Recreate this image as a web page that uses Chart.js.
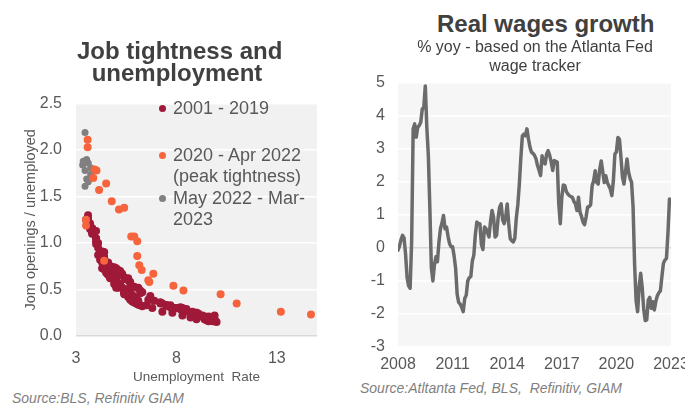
<!DOCTYPE html>
<html>
<head>
<meta charset="utf-8">
<script src="https://cdn.jsdelivr.net/npm/chart.js@4.4.0/dist/chart.umd.min.js"></script>
<style>
  body { margin: 0; width: 685px; height: 405px; background: #fff; position: relative; overflow: hidden;
         font-family: "Liberation Sans", Arial, sans-serif; }
  .box { position: absolute; }
  .title { position: absolute; text-align: center; font-weight: bold; font-size: 24px; color: #404040; white-space: nowrap; }
  .sub { position: absolute; text-align: center; font-size: 16px; line-height: 19px; color: #404040; white-space: nowrap; }
  .source { position: absolute; font-style: italic; font-size: 14px; line-height: 16px; color: #7f7f7f; white-space: pre; }
  .key { position: absolute; left: 173px; font-size: 18px; line-height: 21px; color: #595959; white-space: nowrap; }
  .dot { position: absolute; width: 7px; height: 7px; border-radius: 50%; }
</style>
</head>
<body>

<div class="box" style="left:0; top:80px;"><canvas id="jobs" width="340" height="305"></canvas></div>
<div class="box" style="left:340px; top:60px;"><canvas id="wages" width="345" height="320"></canvas></div>

<div class="title" style="left:77px; top:40px; width:200px; line-height:22px;">Job tightness and<br>unemployment</div>
<div class="title" style="left:437px; top:12px; width:200px; line-height:24px;">Real wages growth</div>
<div class="sub" style="left:385px; top:37px; width:300px;">% yoy - based on the Atlanta Fed<br>wage tracker</div>

<div class="dot" style="left:159px; top:105px; background:#a01939;"></div>
<div class="key" style="top:98px;">2001 - 2019</div>
<div class="dot" style="left:159px; top:152px; background:#f5643c;"></div>
<div class="key" style="top:145px;">2020 - Apr 2022<br>(peak tightness)</div>
<div class="dot" style="left:159px; top:195px; background:#808080;"></div>
<div class="key" style="top:188px;">May 2022 - Mar-<br>2023</div>

<div class="source" style="left:12px; top:390px;">Source:BLS, Refinitiv GIAM</div>
<div class="source" style="left:360px; top:380px;">Source:Atltanta Fed, BLS,  Refinitiv, GIAM</div>

<script>
// Unemployment rate (%) and job openings per unemployed person, monthly 2001-2019
const preUnemp = [
  4.2,4.2,4.3,4.4,4.3,4.5,4.6,4.9,5.0,5.3,5.5,5.7,
  5.7,5.7,5.7,5.9,5.8,5.8,5.8,5.7,5.7,5.7,5.9,6.0,
  5.8,5.9,5.9,6.0,6.1,6.3,6.2,6.1,6.1,6.0,5.8,5.7,
  5.7,5.6,5.8,5.6,5.6,5.6,5.5,5.4,5.4,5.5,5.4,5.4,
  5.3,5.4,5.2,5.2,5.1,5.0,5.0,4.9,5.0,5.0,5.0,4.9,
  4.7,4.8,4.7,4.7,4.6,4.6,4.7,4.7,4.5,4.4,4.5,4.4,
  4.6,4.5,4.4,4.5,4.4,4.6,4.7,4.6,4.7,4.7,4.7,5.0,
  5.0,4.9,5.1,5.0,5.4,5.6,5.8,6.1,6.1,6.5,6.8,7.3,
  7.8,8.3,8.7,9.0,9.4,9.5,9.5,9.6,9.8,10.0,9.9,9.9,
  9.8,9.8,9.9,9.9,9.6,9.4,9.4,9.5,9.5,9.4,9.8,9.3,
  9.1,9.0,9.0,9.1,9.0,9.1,9.0,9.0,9.0,8.8,8.6,8.5,
  8.3,8.3,8.2,8.2,8.2,8.2,8.2,8.1,7.8,7.8,7.7,7.9,
  8.0,7.7,7.5,7.6,7.5,7.5,7.3,7.2,7.2,7.2,6.9,6.7,
  6.6,6.7,6.7,6.2,6.3,6.1,6.2,6.1,5.9,5.7,5.8,5.6,
  5.7,5.5,5.4,5.4,5.6,5.3,5.2,5.1,5.0,5.0,5.1,5.0,
  4.8,4.9,5.0,5.1,4.8,4.9,4.8,4.9,5.0,4.9,4.7,4.7,
  4.7,4.6,4.4,4.4,4.4,4.3,4.3,4.4,4.2,4.1,4.2,4.1,
  4.0,4.1,4.0,4.0,3.8,4.0,3.8,3.8,3.7,3.8,3.8,3.9,
  4.0,3.8,3.8,3.7,3.6,3.6,3.7,3.6,3.5,3.6,3.6,3.6
];
const preRatio = [
  0.87,0.82,0.79,0.74,0.73,0.70,0.66,0.60,0.57,0.52,0.47,0.45,
  0.48,0.44,0.45,0.42,0.43,0.44,0.40,0.42,0.41,0.43,0.40,0.38,
  0.40,0.37,0.36,0.35,0.34,0.32,0.33,0.34,0.35,0.36,0.37,0.39,
  0.41,0.42,0.40,0.43,0.45,0.44,0.46,0.45,0.48,0.46,0.47,0.50,
  0.52,0.50,0.53,0.56,0.55,0.56,0.58,0.60,0.59,0.62,0.60,0.62,
  0.65,0.66,0.68,0.70,0.66,0.69,0.66,0.65,0.68,0.72,0.71,0.72,
  0.70,0.73,0.74,0.70,0.72,0.68,0.66,0.67,0.64,0.62,0.63,0.58,
  0.58,0.56,0.52,0.52,0.46,0.44,0.41,0.37,0.38,0.33,0.30,0.26,
  0.25,0.22,0.20,0.18,0.18,0.17,0.18,0.16,0.16,0.15,0.16,0.17,
  0.18,0.17,0.18,0.22,0.21,0.19,0.21,0.19,0.20,0.20,0.19,0.22,
  0.21,0.22,0.23,0.22,0.23,0.24,0.25,0.24,0.25,0.26,0.26,0.29,
  0.29,0.30,0.31,0.29,0.30,0.29,0.29,0.30,0.30,0.30,0.31,0.30,
  0.30,0.33,0.33,0.32,0.33,0.33,0.35,0.35,0.36,0.36,0.38,0.39,
  0.39,0.41,0.43,0.46,0.47,0.52,0.49,0.51,0.53,0.54,0.53,0.60,
  0.58,0.61,0.63,0.63,0.62,0.67,0.70,0.66,0.66,0.68,0.69,0.68,
  0.74,0.74,0.73,0.71,0.73,0.70,0.74,0.70,0.70,0.72,0.75,0.74,
  0.75,0.79,0.82,0.85,0.90,0.88,0.91,0.90,0.91,0.87,0.90,0.95,
  0.99,1.00,1.02,1.05,1.12,1.05,1.14,1.10,1.18,1.16,1.15,1.10,
  1.13,1.14,1.16,1.15,1.21,1.22,1.21,1.19,1.25,1.22,1.26,1.30
];
// Jan 2020 - Apr 2022
const covidUnemp = [3.5,3.5,4.4,14.7,13.2,11.0,10.2,8.35,7.85,6.85,6.65,6.6,6.27,6.15,6.05,6.05,5.75,5.9,5.4,5.14,4.78,4.5,4.15,3.86,3.92,4.02,3.58,3.58];
const covidRatio = [1.19,1.25,0.81,0.23,0.26,0.35,0.45,0.49,0.54,0.67,0.58,0.60,0.71,0.76,0.86,1.02,1.07,1.07,1.38,1.36,1.45,1.64,1.57,1.70,1.79,1.78,2.03,2.11];
// May 2022 - Mar 2023
const lateUnemp = [3.45,3.36,3.53,3.33,3.61,3.73,3.45,3.73,3.53,3.61,3.45];
const lateRatio = [2.19,1.88,1.90,1.84,1.86,1.81,1.78,1.74,1.69,1.66,1.61];
const jobsXTicks = [3, 8, 13];

// Real wage growth, % yoy, monthly from Jan 2008
const wageStart = 2008;
const realWage = [
  -0.07,0.05,0.25,0.38,0.30,-0.20,-0.90,-1.15,-1.22,0.20,3.60,3.75,
  3.35,3.65,3.70,3.80,4.20,4.25,4.90,3.65,2.80,1.20,-0.60,-1.00,
  -0.52,-0.27,-0.42,0.18,0.58,0.75,0.98,0.58,0.63,0.35,0.13,0.03,
  0.03,-0.25,-0.62,-1.40,-1.65,-1.70,-1.80,-1.93,-1.53,-1.43,-1.00,-0.90,
  -0.87,-0.40,-0.22,0.40,0.78,0.73,0.73,0.10,-0.05,0.63,0.58,0.45,
  0.33,0.80,1.13,0.93,0.33,0.38,0.90,1.23,1.33,0.85,0.73,0.93,
  1.33,0.73,0.28,0.22,0.18,0.28,0.90,1.30,1.93,2.73,3.39,3.44,
  3.39,3.60,3.30,3.05,2.89,2.86,2.80,2.69,2.49,2.35,2.19,2.79,
  2.60,2.54,2.84,2.94,2.80,2.60,2.34,2.64,2.62,2.59,1.33,0.73,
  1.53,1.90,1.88,1.70,1.63,1.58,1.55,1.53,1.40,1.33,1.13,1.53,
  1.08,0.95,0.78,0.70,0.93,1.23,1.25,1.30,1.88,2.03,2.33,1.98,
  1.93,2.38,2.63,2.30,1.98,2.18,1.98,1.88,1.78,1.58,2.03,2.84,
  2.90,3.34,3.29,2.74,2.14,1.93,2.30,2.69,2.30,2.10,1.98,1.23,
  -0.50,-1.60,-1.93,-1.17,-0.77,-1.20,-1.85,-2.20,-2.18,-1.58,-1.50,-1.83,
  -1.63,-1.88,-1.62,-1.45,-1.36,-1.30,-0.87,-0.47,-0.37,-0.32,0.45,1.48,
  1.43
];
const wageXTicks = [2008, 2011, 2014, 2017, 2020, 2023];

const tickColor = '#595959';
const pairs = (xs, ys) => xs.map((x, i) => ({ x: x, y: ys[i] }));

// fills the plot area behind the grid
const plotBg = {
  id: 'plotBg',
  beforeDraw(chart, args, opts) {
    const { ctx, chartArea: a } = chart;
    ctx.save();
    ctx.fillStyle = opts.color;
    ctx.fillRect(a.left, a.top, a.width, a.height);
    ctx.restore();
  }
};

const gridColor = ctx => ctx.tick && ctx.tick.value === 0 ? '#d9d9d9' : '#ffffff';

new Chart(document.getElementById('jobs'), {
  type: 'scatter',
  data: {
    datasets: [
      { label: '2020 - Apr 2022 (peak tightness)', data: pairs(covidUnemp, covidRatio),
        backgroundColor: '#f5643c', pointRadius: 4, borderWidth: 0 },
      { label: 'May 2022 - Mar-2023', data: pairs(lateUnemp, lateRatio),
        backgroundColor: '#808080', pointRadius: 3.5, borderWidth: 0 },
      { label: '2001 - 2019', data: pairs(preUnemp, preRatio),
        backgroundColor: '#a01939', pointRadius: 4, borderWidth: 0 }
    ]
  },
  options: {
    responsive: false,
    animation: false,
    layout: { padding: { left: 22, top: 13, right: 23, bottom: 0 } },
    plugins: { legend: { display: false }, tooltip: { enabled: false }, plotBg: { color: '#f1f1f1' } },
    scales: {
      x: {
        type: 'linear', min: 3, max: 15,
        afterBuildTicks: s => { s.ticks = jobsXTicks.map(v => ({ value: v })); },
        afterFit: s => { s.height = 49; s.paddingLeft = 0; s.paddingRight = 0; },
        grid: { display: false },
        border: { display: false },
        ticks: { color: tickColor, font: { size: 16 }, padding: 5 },
        title: { display: true, text: 'Unemployment  Rate', color: tickColor, font: { size: 13.5 }, padding: 0 }
      },
      y: {
        min: 0, max: 2.5,
        afterFit: s => { s.width = 54; },
        grid: { color: gridColor, lineWidth: 1.5, drawTicks: false },
        border: { display: false },
        ticks: { stepSize: 0.5, color: tickColor, font: { size: 16 }, padding: 14, callback: v => v.toFixed(1) },
        title: { display: true, text: 'Jom openings / unemployed', color: tickColor, font: { size: 14.5 }, padding: 0 }
      }
    }
  },
  plugins: [plotBg]
});

new Chart(document.getElementById('wages'), {
  type: 'line',
  data: {
    datasets: [{
      data: realWage.map((v, i) => ({ x: wageStart + i / 12, y: v })),
      borderColor: '#6b6b6b', borderWidth: 3.5, pointRadius: 0, tension: 0,
      borderJoinStyle: 'round', borderCapStyle: 'round'
    }]
  },
  options: {
    responsive: false,
    animation: false,
    layout: { padding: { left: 0, top: 22, right: 14, bottom: 0 } },
    plugins: { legend: { display: false }, tooltip: { enabled: false }, plotBg: { color: '#f6f6f6' } },
    scales: {
      x: {
        type: 'linear', min: 2008, max: 2023,
        afterBuildTicks: s => { s.ticks = wageXTicks.map(v => ({ value: v })); },
        afterFit: s => { s.height = 33; s.paddingLeft = 0; s.paddingRight = 0; },
        grid: { display: false },
        border: { display: false },
        ticks: { color: tickColor, font: { size: 16 }, padding: 0, maxRotation: 0, callback: v => String(v) }
      },
      y: {
        min: -3, max: 5,
        afterFit: s => { s.width = 58; },
        grid: { color: gridColor, lineWidth: 1.5, drawTicks: false },
        border: { display: false },
        ticks: { stepSize: 1, color: tickColor, font: { size: 16 }, padding: 13 }
      }
    }
  },
  plugins: [plotBg]
});
</script>
</body>
</html>
